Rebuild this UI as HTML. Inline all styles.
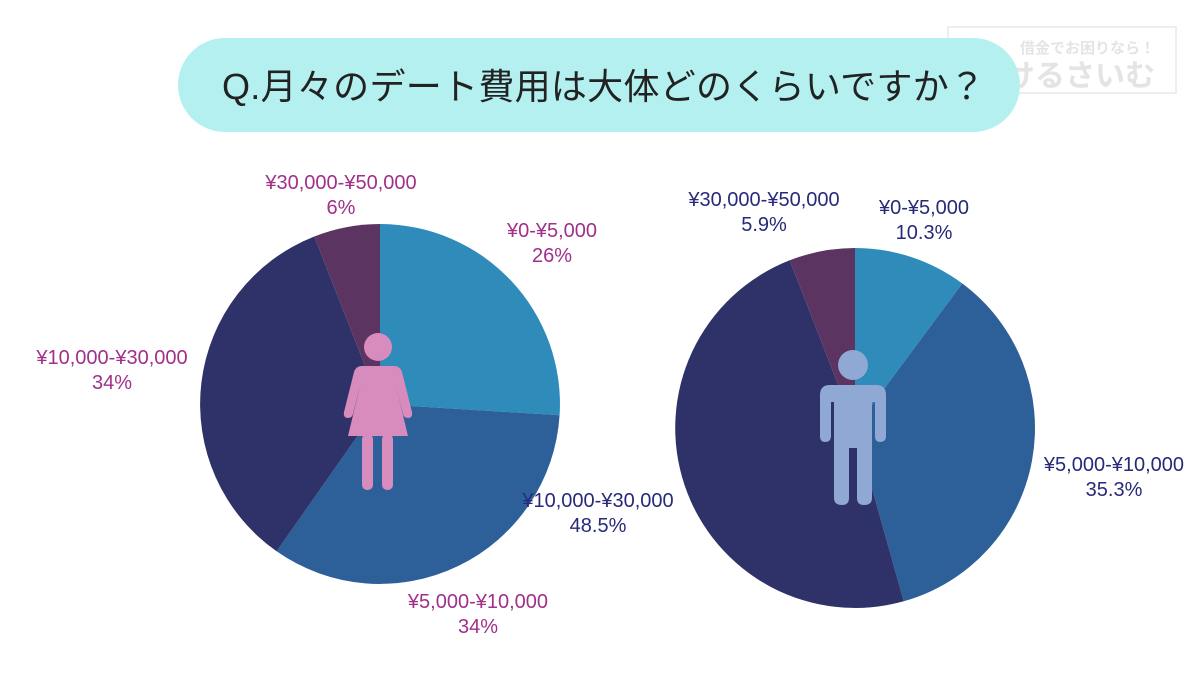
<!DOCTYPE html>
<html><head><meta charset="utf-8"><style>
body{margin:0;width:1200px;height:675px;background:#fff;overflow:hidden;font-family:"Liberation Sans","Noto Sans CJK JP",sans-serif}
</style></head><body>
<svg width="1200" height="675" viewBox="0 0 1200 675" xmlns="http://www.w3.org/2000/svg" style="position:absolute;left:0;top:0">
<rect x="948" y="27" width="228" height="66" fill="none" stroke="#eeeeee" stroke-width="2"/>
<text x="1020" y="53" font-size="15" fill="#e4e4e4" font-family="Noto Sans CJK JP,sans-serif" font-weight="bold">借金でお困りなら！</text>
<text x="1005" y="86" font-size="30" fill="#e4e4e4" font-family="Noto Sans CJK JP,sans-serif" font-weight="bold">けるさいむ</text>
<rect x="178" y="38" width="842" height="94" rx="47" fill="#b4f0f0"/>
<text x="222" y="99" font-size="36" textLength="763" fill="#222" font-family="Liberation Sans,Noto Sans CJK JP,sans-serif">Q.月々のデート費用は大体どのくらいですか？</text>
<path d="M380,404 L380,224 A180,180 0 0 1 559.6,415.3 Z" fill="#2e8bba"/>
<path d="M380,404 L559.6,415.3 A180,180 0 0 1 276.6,551.3 Z" fill="#2d5f98"/>
<path d="M380,404 L276.6,551.3 A180,180 0 0 1 314.3,236.5 Z" fill="#2e3268"/>
<path d="M380,404 L314.3,236.5 A180,180 0 0 1 380,224 Z" fill="#5c3461"/>
<path d="M855,428 L855,248 A180,180 0 0 1 962.3,283.5 Z" fill="#2e8bba"/>
<path d="M855,428 L962.3,283.5 A180,180 0 0 1 903.7,601.3 Z" fill="#2d5f98"/>
<path d="M855,428 L903.7,601.3 A180,180 0 0 1 789.7,260.3 Z" fill="#2e3268"/>
<path d="M855,428 L789.7,260.3 A180,180 0 0 1 855,248 Z" fill="#5c3461"/>
<g fill="#d88bbd">
<circle cx="378" cy="347" r="14"/>
<path d="M362,366 L394,366 Q400,366 402,372 L412,412 Q413,418 408,418 Q404,418 403,414 L395,382 L408,436 L348,436 L361,382 L353,414 Q352,418 348,418 Q343,418 344,412 L354,372 Q356,366 362,366 Z"/>
<rect x="362" y="434" width="11" height="56" rx="5"/>
<rect x="382" y="434" width="11" height="56" rx="5"/>
</g>
<g fill="#8fa8d4">
<circle cx="853" cy="365" r="15"/>
<path d="M830,385 L876,385 Q886,385 886,395 L886,436 Q886,442 880,442 Q875,442 875,436 L875,402 L872,402 L872,498 Q872,505 864,505 Q857,505 857,498 L857,448 L849,448 L849,498 Q849,505 842,505 Q834,505 834,498 L834,402 L831,402 L831,436 Q831,442 825,442 Q820,442 820,436 L820,395 Q820,385 830,385 Z"/>
</g>
<g font-size="20" text-anchor="middle" fill="#a0308a">
<text x="341" y="189">¥30,000-¥50,000</text><text x="341" y="214">6%</text>
<text x="552" y="237">¥0-¥5,000</text><text x="552" y="262">26%</text>
<text x="112" y="364">¥10,000-¥30,000</text><text x="112" y="389">34%</text>
<text x="478" y="608">¥5,000-¥10,000</text><text x="478" y="633">34%</text>
</g>
<g font-size="20" text-anchor="middle" fill="#262a78">
<text x="764" y="206">¥30,000-¥50,000</text><text x="764" y="231">5.9%</text>
<text x="924" y="214">¥0-¥5,000</text><text x="924" y="239">10.3%</text>
<text x="1114" y="471">¥5,000-¥10,000</text><text x="1114" y="496">35.3%</text>
<text x="598" y="507">¥10,000-¥30,000</text><text x="598" y="532">48.5%</text>
</g>
</svg>
</body></html>
